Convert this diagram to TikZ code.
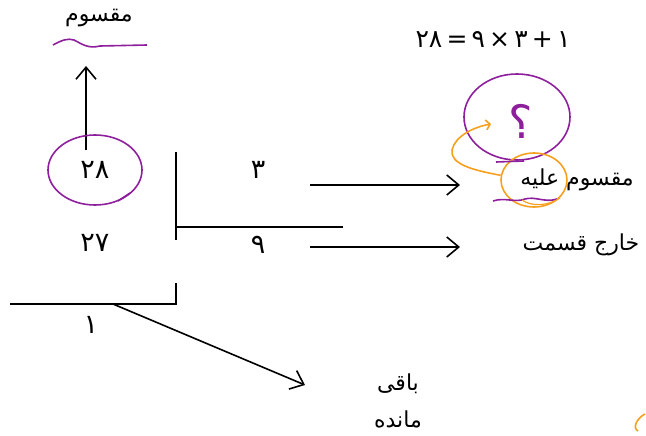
\documentclass[tikz,border=0pt]{standalone}
\usepackage{fontspec}
\usepackage{xcolor}
\usetikzlibrary{arrows.meta, shapes.geometric}
\TeXXeTstate=1
\newfontfamily\arabicfont[Script=Arabic]{DejaVu Sans}
\definecolor{InkPurple}{HTML}{8E1F9C}
\definecolor{InkOrange}{HTML}{F7A01E}

\begin{document}
\begin{tikzpicture}[
      x=1pt, y=-1pt,
      word/.style={font=\arabicfont\fontsize{22}{24}\selectfont, inner sep=1pt},
      digit/.style={font=\arabicfont\fontsize{27}{30}\selectfont, inner sep=1pt},
      rule/.style={line width=1.6pt, black},
      conn/.style={line width=1.6pt, -{Straight Barb[length=12pt, width=20pt]}},
      purplepen/.style={draw=InkPurple, line width=1.6pt},
      orangepen/.style={draw=InkOrange, line width=1.6pt}
    ]
    \useasboundingbox (0,0) rectangle (646,436);

    % labels and numbers
    \node[word]  (dividend) at (99,18)   {\beginR مقسوم\endR};
    \node[digit] (n28)      at (95,170)  {۲۸};
    \node[digit] (n27)      at (95,243)  {۲۷};
    \node[digit] (n3)       at (258,170) {۳};
    \node[digit] (n9)       at (258,245) {۹};
    \node[digit] (n1)       at (91,325)  {۱};
    \node[digit, font=\arabicfont\fontsize{25}{27}\selectfont] (eq) at (493,40)
      {\beginL ۲۸\,=\,۹\,×\,۳\,+\,۱\endL};
    \node[word]  (divisor)  at (577,180) {\beginR مقسوم علیه\endR};
    \node[word]  (quot)     at (581,245) {\beginR خارج قسمت\endR};
    \node[word]  (rem1)     at (398,384) {\beginR باقی\endR};
    \node[word]  (rem2)     at (398,419) {\beginR مانده\endR};

    % division bracket
    \draw[rule] (176,152) -- (176,240);
    \draw[rule] (176,227) -- (343,227);
    \draw[rule] (176,283) -- (176,304) -- (10,304);

    % arrows
    \coordinate (upfoot) at (86,150);
    \coordinate (uptip)  at (86,66);
    \coordinate (from3)  at (310,185);
    \coordinate (to3)    at (460,185);
    \coordinate (from9)  at (310,247);
    \coordinate (to9)    at (460,247);
    \coordinate (from1)  at (113,304);
    \coordinate (to1)    at (305,385);
    \draw[conn] (upfoot) -- (uptip);
    \draw[conn] (from3) -- (to3);
    \draw[conn] (from9) -- (to9);
    \draw[conn] (from1) -- (to1);

    % pen marks
    \draw[purplepen] (53,45) .. controls (62,40) and (68,38) .. (74,40)
      .. controls (82,44) and (88,49) .. (100,46) -- (147,45);
    \draw[purplepen] (95,170) ellipse [x radius=47pt, y radius=35pt];
    \draw[purplepen] (118,201) -- (130,193);

    \node[purplepen, ellipse, minimum width=106pt, minimum height=86pt] (qring) at (517,117) {};
    \node[font=\arabicfont\fontsize{46}{50}\selectfont, text=InkPurple, inner sep=0pt] (qmark) at (521,121) {؟};
    \node[orangepen, ellipse, minimum width=66pt, minimum height=54pt] (oring) at (534,180) {};
    \coordinate (qhook) at (491,124);
    \draw[orangepen, -{Straight Barb[length=4pt, width=10pt]}] (oring.172)
      .. controls (472,170) and (450,164) .. (452,150)
      .. controls (455,136) and (474,127) .. (qhook);
    \draw[purplepen] (496,162) -- (524,161);
    \draw[purplepen] (493,201) .. controls (505,197) and (515,203) .. (525,199)
      .. controls (535,196) and (545,203) .. (557,199);
    \draw[orangepen, line width=1.2pt] (522,200) .. controls (532,207) and (548,206) .. (560,198);
    \draw[orangepen] (645,414) .. controls (637,418) and (632,428) .. (638,431);

  \end{tikzpicture}
\end{document}
